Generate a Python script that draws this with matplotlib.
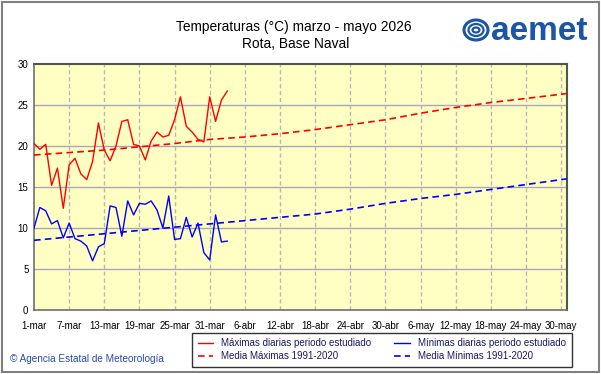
import matplotlib
matplotlib.use("Agg")
import matplotlib.pyplot as plt
from matplotlib.patches import Rectangle, Ellipse
import numpy as np

plt.rcParams['font.family'] = ['Liberation Sans', 'DejaVu Sans']

# ---- data ----
tick_days = [0, 6, 12, 18, 24, 30, 36, 42, 48, 54, 60, 66, 72, 78, 84, 90]
tick_labels = ["1-mar", "7-mar", "13-mar", "19-mar", "25-mar", "31-mar", "6-abr",
               "12-abr", "18-abr", "24-abr", "30-abr", "6-may", "12-may",
               "18-may", "24-may", "30-may"]

obs_days = list(range(34))
tmax = [20.3, 19.6, 20.2, 15.2, 17.3, 12.4, 17.7, 18.5, 16.6, 15.9,
        18.1, 22.8, 19.5, 18.2, 20.0, 23.0, 23.2, 20.2, 20.0, 18.3,
        20.6, 21.7, 21.1, 21.3, 23.2, 26.0, 22.4, 21.7, 20.8, 20.5,
        26.0, 23.0, 25.6, 26.7]
tmin = [10.0, 12.5, 12.1, 10.5, 10.9, 8.8, 10.6, 8.7, 8.4, 7.8,
        6.0, 7.7, 8.1, 12.7, 12.5, 9.0, 13.3, 11.6, 13.0, 12.9,
        13.3, 12.2, 10.0, 13.9, 8.6, 8.7, 11.3, 8.9, 10.6, 7.0,
        6.1, 11.6, 8.3, 8.4]

norm_days = [0, 6, 12, 18, 24, 30, 36, 42, 48, 54, 60, 66, 72, 78, 84, 91]
norm_max = [18.9, 19.2, 19.5, 19.9, 20.3, 20.8, 21.1, 21.5, 22.0, 22.6,
            23.2, 24.0, 24.7, 25.3, 25.8, 26.4]
norm_min = [8.5, 8.9, 9.3, 9.7, 10.1, 10.5, 10.9, 11.3, 11.7, 12.3,
            13.0, 13.6, 14.1, 14.7, 15.3, 16.0]

# ---- figure ----
fig = plt.figure(figsize=(6.01, 3.74), dpi=100)
fig.patch.set_facecolor('white')
ax = fig.add_axes([34/601, 1-310/374, (567-34)/601, (310-64)/374])
ax.set_facecolor('#ffffc4')

ax.set_xlim(0, 91)
ax.set_ylim(0, 30)
ax.set_yticks(range(0, 31, 5))
ax.set_xticks(tick_days)
ax.set_xticklabels(tick_labels)

for y in range(5, 30, 5):
    ax.axhline(y, color='#a8a8b8', lw=1.0, zorder=1)
for d in tick_days[1:]:
    ax.axvline(d, color='#b8b8b0', lw=1.0, ls=(0, (3, 2)), zorder=1)

l1, = ax.plot(obs_days, tmax, color='#ff0000', lw=1.0, zorder=3)
l2, = ax.plot(norm_days, norm_max, color='#ff0000', lw=1.2, ls=(0, (4, 2.5)), zorder=3)
l3, = ax.plot(obs_days, tmin, color='#0000ff', lw=1.0, zorder=3)
l4, = ax.plot(norm_days, norm_min, color='#0000ff', lw=1.2, ls=(0, (4, 2.5)), zorder=3)

ax.tick_params(axis='both', length=0, labelsize=7, colors='#000000', pad=4)
ax.tick_params(axis='x', pad=8)
for s in ['left', 'bottom']:
    ax.spines[s].set_color('#707070')
    ax.spines[s].set_linewidth(1.2)
for s in ['top', 'right']:
    ax.spines[s].set_color('#4a5a4a')
    ax.spines[s].set_linewidth(1.5)

# legend
leg = fig.legend([l1, l2, l3, l4],
                 ["Máximas diarias periodo estudiado", "Media Máximas 1991-2020",
                  "Mínimas diarias periodo estudiado", "Media Mínimas 1991-2020"],
                 ncol=2, loc='lower left', bbox_to_anchor=(187/601, 1-372/374),
                 fontsize=7, frameon=True, fancybox=False, handlelength=1.6,
                 handletextpad=0.8, columnspacing=2.4, labelspacing=0.3,
                 borderpad=0.6, edgecolor='black')
leg.get_frame().set_linewidth(1.0)
for t in leg.get_texts():
    t.set_color('#1a1a60')

# titles
fig.text(294/601, 1-27/374, "Temperaturas (°C) marzo - mayo 2026", ha='center', va='center',
         fontsize=9.9, color='#000000')
fig.text(296/601, 1-44/374, "Rota, Base Naval", ha='center', va='center',
         fontsize=9.9, color='#000000')

# logo
logo_blue = '#1b55a6'
fig.text(491/601, 1-31/374, "aemet", ha='left', va='center', fontsize=24,
         fontweight='bold', color=logo_blue)
for i, (w, h) in enumerate([(24, 20), (15, 12), (7, 5)]):
    e = Ellipse((476/601, 1-30/374), w/601, h/374, transform=fig.transFigure,
                fill=False, edgecolor=logo_blue, lw=2.2 if i == 0 else 1.6)
    fig.patches.append(e)

# copyright
fig.text(10/601, 1-359/374, "© Agencia Estatal de Meteorología", ha='left', va='center',
         fontsize=7.2, color='#2a4ab0')

# outer frame
fig.patches.append(Rectangle((2/601, 2/374), 597/601, 370/374, transform=fig.transFigure,
                             fill=False, edgecolor='#808080', lw=1.5))

fig.savefig("out.png", dpi=100)
